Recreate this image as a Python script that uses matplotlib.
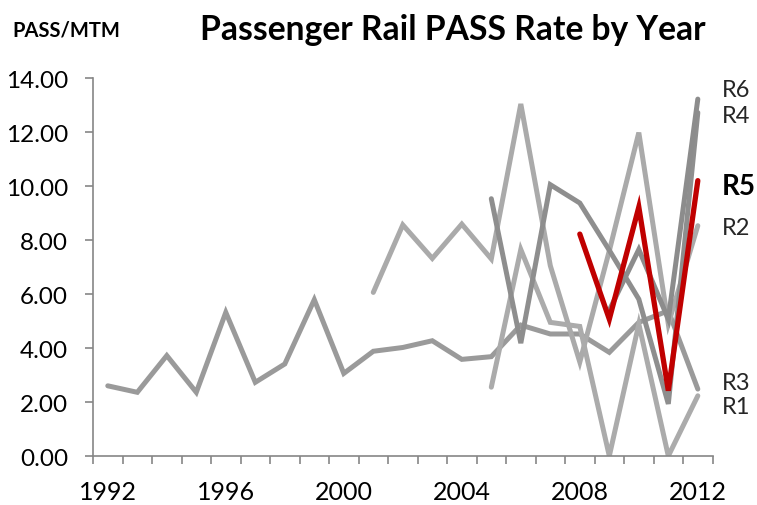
import numpy as np
import matplotlib
matplotlib.use("Agg")
import matplotlib.pyplot as plt

# PASS/MTM by year, one list per region (None = no data)
years = list(range(1992, 2013))

r3 = [2.60, 2.36, 3.72, 2.36, 5.32, 2.73, 3.41, 5.79, 3.06, 3.88, 4.02,
      4.27, 3.58, 3.68, 4.85, 4.52, 4.52, 3.84, 4.95, 5.38, 2.48]
r2 = [None] * 9 + [6.06, 8.56, 7.32, 8.59, 7.30, 13.04, 7.05, 3.48, 7.60,
                   11.98, 4.89, 8.53]
r4 = [None] * 13 + [9.53, 4.18, 10.05, 9.37, 7.62, 5.81, 1.93, 12.72]
r1 = [None] * 13 + [2.55, 7.65, 4.95, 4.80, 0.0, 4.89, 0.0, 2.23]
r6 = [None] * 17 + [5.40, 7.65, 5.07, 13.22]
r5 = [None] * 16 + [8.22, 5.07, 9.22, 2.42, 10.20]

series = [
    ("R3", r3, "#9a9a9a", 2.74),
    ("R2", r2, "#aaaaaa", 8.48),
    ("R1", r1, "#ababab", 1.82),
    ("R4", r4, "#8e8e8e", 12.62),
    ("R6", r6, "#8c8c8c", 13.56),
]
red = "#c00000"

fig = plt.figure(figsize=(7.57, 5.06), dpi=100)
ax = fig.add_axes([0.1229, 0.0968, 0.8184, 0.747])

for name, vals, col, ylab in series:
    y = np.array([np.nan if v is None else v for v in vals], dtype=float)
    ax.plot(years, y, color=col, lw=3.6, solid_joinstyle="miter",
            solid_capstyle="round")
    ax.text(2012.82, ylab, name, fontsize=17, color="#262626",
            va="center", ha="left", family="Lato", clip_on=False)

y5 = np.array([np.nan if v is None else v for v in r5], dtype=float)
ax.plot(years, y5, color=red, lw=3.8, solid_joinstyle="miter",
        solid_capstyle="round")
ax.text(2012.82, 10.0, "R5", fontsize=20, fontweight="bold", color="black",
        va="center", ha="left", family="Lato", clip_on=False)

ax.set_xlim(1991.5, 2012.5)
ax.set_ylim(0, 14)
ax.set_xticks(np.arange(1991.5, 2013, 1))
ax.set_xticklabels([])
ax.set_xticks([1992, 1996, 2000, 2004, 2008, 2012], minor=True)
ax.set_xticklabels(["1992", "1996", "2000", "2004", "2008", "2012"],
                   minor=True, fontsize=18, family="Lato")
ax.tick_params(axis="x", which="minor", length=0, pad=17)
ax.tick_params(axis="x", which="major", length=6, width=1.2,
               color="#868686", direction="out")
ax.set_yticks(np.arange(0, 14.01, 2))
ax.set_yticklabels([f"{v:.2f}" for v in np.arange(0, 14.01, 2)],
                   fontsize=17.5, family="Lato")
ax.tick_params(axis="y", length=6, width=1.2, color="#868686",
               direction="out", pad=12)

for s in ["top", "right"]:
    ax.spines[s].set_visible(False)
for s in ["left", "bottom"]:
    ax.spines[s].set_color("#868686")
    ax.spines[s].set_linewidth(1.2)

fig.text(0.016, 0.94, "PASS/MTM", fontsize=14.5, fontweight="bold",
         family="Lato", va="center", ha="left")
fig.text(0.264, 0.94, "Passenger Rail PASS Rate by Year", fontsize=24.2,
         fontweight="bold", family="Lato", va="center", ha="left")

fig.savefig("out.png", dpi=100)
